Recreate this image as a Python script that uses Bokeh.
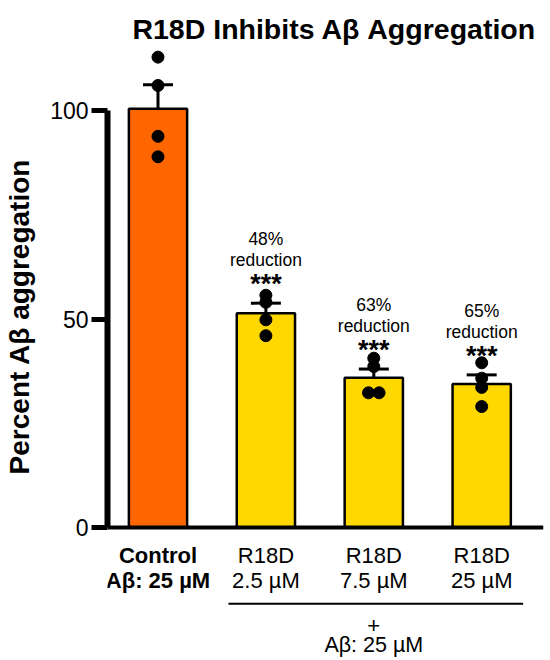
from bokeh.plotting import figure
from bokeh.models import Range1d, FixedTicker, Span, Label
from bokeh.core.properties import value
from bokeh.embed import file_html
from bokeh.resources import INLINE

# ---------------- data ----------------
title_text = "R18D Inhibits Aβ Aggregation"
y_label = "Percent Aβ aggregation"
label_line1 = ["Control", "R18D", "R18D", "R18D"]
label_line2 = ["Aβ: 25 µM", "2.5 µM", "7.5 µM", "25 µM"]
means = [100.4, 51.4, 35.9, 34.4]
sems = [5.8, 2.4, 2.1, 2.2]
points = [
    [112.8, 106.0, 93.8, 88.9],
    [55.7, 54.0, 49.8, 46.0],
    [40.6, 38.6, 32.3, 32.3],
    [39.5, 35.8, 33.6, 29.0],
]
point_dodge = [
    [0, 0, 0, 0],
    [0, 0, 0, 0],
    [0, 0, -0.049, 0.049],
    [0, 0, 0, 0],
]
reductions = ["", "48%", "63%", "65%"]
stars = ["", "***", "***", "***"]
y_ticks = [0, 50, 100]
group_plus = "+"
group_text = "Aβ: 25 µM"
group_center = 2
bar_colors = ["#FF6600", "#FFD800", "#FFD800", "#FFD800"]

# ---------------- figure ----------------
FONT = "Liberation Sans"
xs = list(range(len(means)))
tops = [m + s for m, s in zip(means, sems)]

# frame: x 107..543 px, y 0..632 px  (0 -> 527 px, 100 -> 110 px)
p = figure(width=550, height=660,
           x_range=Range1d(-0.468, 3.5728), y_range=Range1d(-25.18, 126.38),
           output_backend="svg", toolbar_location=None,
           min_border_left=107, min_border_right=7, min_border_top=0, min_border_bottom=28)
p.outline_line_color = None
p.grid.visible = False
p.background_fill_color = "white"
p.border_fill_color = "white"

ax = p.yaxis[0]
ax.ticker = FixedTicker(ticks=y_ticks)
ax.bounds = (0, 100)
ax.axis_line_width = 6
ax.axis_line_color = "black"
ax.major_tick_line_width = 5
ax.major_tick_line_color = "black"
ax.major_tick_out = 16
ax.major_tick_in = 0
ax.minor_tick_line_color = None
ax.major_label_text_font = FONT
ax.major_label_text_font_size = "23px"
ax.major_label_text_color = "black"
ax.major_label_standoff = 3
ax.axis_label = y_label
ax.axis_label_text_font = FONT
ax.axis_label_text_font_style = "bold"
ax.axis_label_text_font_size = "28px"
ax.axis_label_text_color = "black"
ax.axis_label_standoff = 12

# bottom axis carries only the shared group label
bx = p.xaxis[0]
bx.ticker = FixedTicker(ticks=[group_center])
bx.major_label_overrides = {group_center: group_text}
bx.axis_line_color = None
bx.major_tick_line_color = None
bx.minor_tick_line_color = None
bx.major_tick_out = 0
bx.major_tick_in = 0
bx.major_label_standoff = 0
bx.major_label_text_font = FONT
bx.major_label_text_font_size = "21.5px"
bx.major_label_text_color = "black"

# bars
p.vbar(x=xs, top=means, bottom=0, width=0.54, fill_color=bar_colors,
       line_color="black", line_width=2.5)

# x axis line
p.add_layout(Span(location=0, dimension="width", line_color="black", line_width=4))

# error bars (upper)
p.segment(x0=xs, y0=means, x1=xs, y1=tops, line_color="black", line_width=3)
p.segment(x0=[x - 0.139 for x in xs], y0=tops, x1=[x + 0.139 for x in xs], y1=tops,
          line_color="black", line_width=3)

# individual points
px, py = [], []
for i, (vals, dod) in enumerate(zip(points, point_dodge)):
    for v, d in zip(vals, dod):
        px.append(i + d)
        py.append(v)
p.scatter(x=px, y=py, size=12, fill_color="black", line_color="black")

# annotations above bars
ann_x = [x for x, r in zip(xs, reductions) if r]
ann_top = [t for t, r in zip(tops, reductions) if r]
p.text(x=ann_x, y=[t + 15.3 for t in ann_top], text=[r for r in reductions if r],
       text_font=value(FONT), text_font_size=value("17.5px"), text_align="center",
       text_baseline="alphabetic", text_color="black")
p.text(x=ann_x, y=[t + 10.3 for t in ann_top], text=["reduction"] * len(ann_x),
       text_font=value(FONT), text_font_size=value("17.5px"), text_align="center",
       text_baseline="alphabetic", text_color="black")
p.text(x=ann_x, y=[t + 4.6 for t in ann_top], text=[s for s in stars if s],
       text_font=value(FONT), text_font_size=value("27px"), text_font_style="bold",
       text_align="center", text_baseline="alphabetic", text_color="black")

# category labels
for txt, yy in ((label_line1[0], -6.7), (label_line2[0], -12.7)):
    p.add_layout(Label(x=xs[0], y=yy, text=txt, text_font=FONT, text_font_size="22px",
                       text_font_style="bold", text_align="center",
                       text_baseline="alphabetic", text_color="black"))
p.text(x=xs[1:], y=[-6.7] * 3, text=label_line1[1:], text_font=value(FONT),
       text_font_size=value("22px"), text_align="center",
       text_baseline="alphabetic", text_color="black")
p.text(x=xs[1:], y=[-12.7] * 3, text=label_line2[1:], text_font=value(FONT),
       text_font_size=value("22px"), text_align="center",
       text_baseline="alphabetic", text_color="black")

# group bracket
p.segment(x0=[0.653], y0=[-18.3], x1=[3.384], y1=[-18.3], line_color="black", line_width=2)
p.text(x=[group_center], y=[-23.5], text=[group_plus], text_font=value(FONT),
       text_font_size=value("22px"), text_align="center",
       text_baseline="alphabetic", text_color="black")

# title
p.text(x=[1.634], y=[119.6], text=[title_text], text_font=value(FONT),
       text_font_size=value("28.5px"), text_font_style="bold", text_align="center",
       text_baseline="alphabetic", text_color="black")

open("out.html", "w").write(file_html(p, INLINE))
